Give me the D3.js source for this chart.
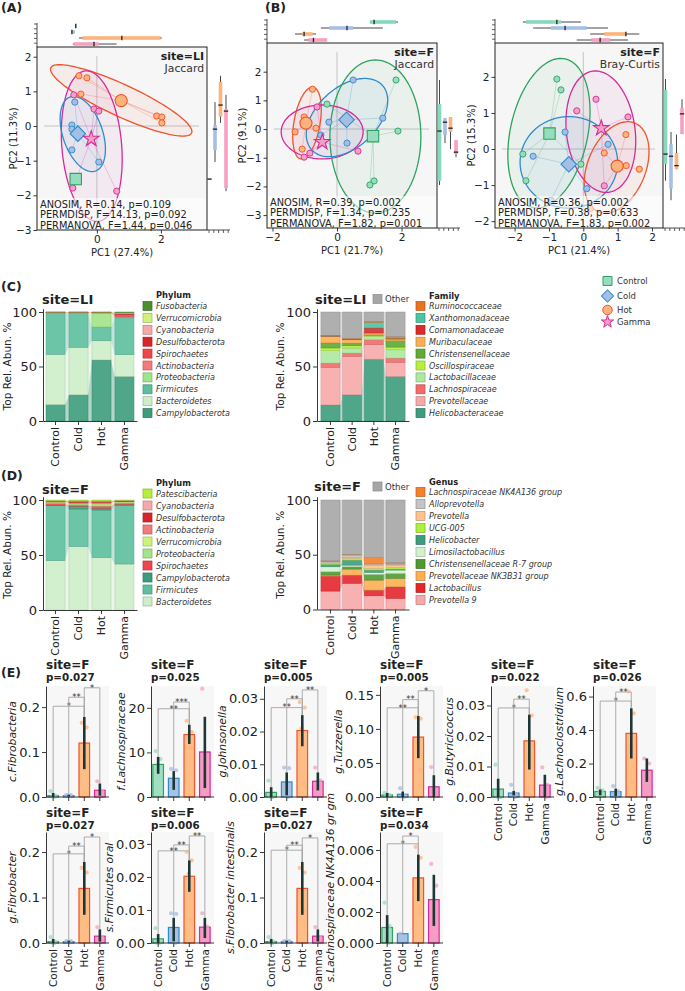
<!DOCTYPE html>
<html><head><meta charset="utf-8">
<script src="https://cdn.jsdelivr.net/npm/d3@7"></script>
<style>
body{margin:0;background:#fff}
svg{display:block;background:#fff}
text{font-family:"DejaVu Sans",sans-serif}
</style>
</head><body>
<svg id="c" width="685" height="991"></svg>
<script>
// ---------------- DATA ----------------
const groups = ["Control","Cold","Hot","Gamma"];

// (A) PCoA site=LI, Jaccard : [group, PC1, PC2]
const pcoaLIJac = [
 ["Hot",-0.56,1.45],["Hot",-0.31,1.39],["Hot",-0.50,0.92],["Hot",1.87,0.29],["Hot",2.03,0.26],["Hot",2.03,0.09],
 ["Gamma",-0.72,0.90],["Gamma",-0.09,0.49],["Gamma",0.06,0.43],["Gamma",-0.75,-1.79],["Gamma",0.62,-1.88],
 ["Cold",-0.69,0.69],["Cold",-0.78,0.03],["Cold",-0.78,-0.09],["Cold",-0.78,-0.69],["Cold",0.06,-1.04],
 ["Control",-0.66,-1.53]
];
// ellipses: [group, cx, cy, major dx, major dy, minor dx, minor dy] (data units)
const ellLIJac = [
 ["Hot",0.76,0.74,2.2,-0.94,-0.2,-0.42],
 ["Gamma",-0.16,-0.58,-0.2,2.17,0.93,0.08],
 ["Cold",-0.44,-0.23,-0.39,1.07,0.59,0.18]
];
const statsLIJac = ["ANOSIM, R=0.14, p=0.109","PERMDISP, F=14.13, p=0.092","PERMANOVA, F=1.44, p=0.046"];

// (B) PCoA site=F, Jaccard
const pcoaFJac = [
 ["Hot",-0.76,1.39],["Hot",-1.02,0.42],["Hot",-0.65,0.03],["Hot",-1.30,-0.10],["Hot",-1.08,-0.70],
 ["Gamma",-0.62,0.77],["Gamma",-0.84,-0.84],["Gamma",-1.02,-0.98],["Gamma",0.65,-0.77],
 ["Cold",0.50,1.71],["Cold",1.42,0.38],["Cold",-0.25,0.24],["Cold",-0.50,-0.21],["Cold",0.31,-0.49],
 ["Control",-0.31,0.87],["Control",1.83,1.71],["Control",1.89,-0.07],["Control",1.15,-1.81],["Control",1.02,-1.95]
];
const ellFJac = [
 ["Hot",-0.93,0.21,0.19,1.25,0.40,-0.07],
 ["Gamma",-0.46,-0.10,1.27,0,0,0.94],
 ["Cold",0.31,0.40,1.10,1.12,0.62,-0.78],
 ["Control",1.19,-0.26,0,2.67,1.41,0]
];
const statsFJac = ["ANOSIM, R=0.39, p=0.002","PERMDISP, F=1.34, p=0.235","PERMANOVA, F=1.82, p=0.001"];

// (B) PCoA site=F, Bray-Curtis
const pcoaFBC = [
 ["Control",-0.77,1.94],["Control",-0.65,1.64],["Control",-1.76,-0.14],["Control",-1.67,-0.88],["Control",-0.07,-0.42],
 ["Cold",-0.53,0.47],["Cold",-1.46,-0.20],["Cold",0.72,0.13],["Cold",0.10,-1.10],["Cold",-0.94,-1.42],
 ["Gamma",0.37,1.38],["Gamma",-0.19,1.06],["Gamma",1.30,0.89],["Gamma",0.61,-1.02],
 ["Hot",1.24,0.40],["Hot",0.61,-0.11],["Hot",1.25,-0.46],["Hot",1.63,-0.56],["Hot",0.20,-1.65]
];
const ellFBC = [
 ["Control",-1.0,0.44,0.47,2.06,1.1,-0.23],
 ["Cold",-0.42,-0.37,1.42,0,0,1.27],
 ["Gamma",0.51,0.48,-0.23,1.68,0.99,0.125],
 ["Hot",0.97,-0.51,0.53,1.23,0.78,-0.31]
];
const statsFBC = ["ANOSIM, R=0.36, p=0.002","PERMDISP, F=0.38, p=0.633","PERMANOVA, F=1.83, p=0.002"];

// (C) stacked relative abundance, bottom-up: [taxon, Control, Cold, Hot, Gamma]
const phylumLI = [
 ["Campylobacterota",15,24,56,40.8],
 ["Bacteroidetes",46,43.5,17.6,20],
 ["Firmicutes",38,31.5,12.6,33.8],
 ["Proteobacteria",0.2,0.2,12.8,0.5],
 ["Actinobacteria",0.3,0.3,0.3,1.0],
 ["Spirochaetes",0.1,0.1,0.2,1.5],
 ["Desulfobacterota",0.2,0.2,0.2,1.0],
 ["Cyanobacteria",0.1,0.1,0.1,0.5],
 ["Verrucomicrobia",0.05,0.05,0.1,0.3],
 ["Fusobacteria",0.05,0.05,0.1,0.6]
];
const familyLI = [
 ["Helicobacteraceae",14.7,24,56.7,40.8],
 ["Prevotellaceae",34.4,35.2,13.3,12.9],
 ["Lachnospiraceae",4,3.1,4.5,4],
 ["Lactobacillaceae",11.4,4.6,3.1,7.6],
 ["Oscillospiraceae",2.5,2.1,0.9,2.5],
 ["Christensenellaceae",4.6,2.5,0.6,5.8],
 ["Muribaculaceae",6.1,3,1.6,1.6],
 ["Comamonadaceae",0.2,0.2,4.6,0.2],
 ["Xanthomonadaceae",0.2,0.2,5.2,0.3],
 ["Ruminococcaceae",0.5,1,0.9,1.8],
 ["Other",21.4,24.1,8.6,22.5]
];
// (D)
const phylumF = [
 ["Bacteroidetes",44.8,57.6,47.6,41.8],
 ["Firmicutes",50,34.2,43.3,53],
 ["Campylobacterota",0.5,2.5,1.5,1],
 ["Spirochaetes",1.5,1,2,1.2],
 ["Proteobacteria",0.8,1,1.5,0.8],
 ["Verrucomicrobia",0.5,0.5,0.8,0.6],
 ["Actinobacteria",0.4,0.8,1,0.5],
 ["Desulfobacterota",0.5,1.2,1,0.4],
 ["Cyanobacteria",0.3,0.5,0.5,0.3],
 ["Patescibacteria",0.7,0.7,0.8,0.4]
];
const genusF = [
 ["Prevotella 9",16.8,23.8,12.5,10],
 ["Lactobacillus",13.7,7.6,5.2,10.7],
 ["Prevotellaceae NK3B31 group",0.9,5.5,9.1,7.7],
 ["Christensenellaceae R-7 group",3.1,2.1,5.2,4.5],
 ["Limosilactobacillus",4.5,1.5,1.8,3.1],
 ["Helicobacter",2.2,4.6,2.2,0.9],
 ["UCG-005",0.8,1.5,1.5,1.5],
 ["Prevotella",1,1,3,2.1],
 ["Alloprevotella",0.6,2.1,1,1],
 ["Lachnospiraceae NK4A136 group",0.9,0.6,5.8,1.2],
 ["Other",55.5,49.7,52.7,57.3]
];

// (E) differential taxa, site=F
const eNames = ["c.Fibrobacteria","f.Lachnospiraceae","g.Johnsonella","g.Tuzzerella","g.Butyricicoccus","g.Lachnoclostridium",
 "g.Fibrobacter","s.Firmicutes oral","s.Fibrobacter intestinalis","s.Lachnospiraceae NK4A136 gr gm"];
const eP = ["0.027","0.025","0.005","0.005","0.022","0.026","0.027","0.006","0.027","0.034"];
const eMeans = [
 [0.003,0.003,0.12,0.015],[7.3,4.2,14.0,10.1],[0.0014,0.0046,0.0203,0.0048],[0.003,0.004,0.088,0.015],
 [0.0026,0.0013,0.0184,0.0039],[0.033,0.032,0.38,0.16],[0.003,0.003,0.12,0.015],[0.00125,0.0047,0.0202,0.0048],
 [0.003,0.003,0.12,0.015],[0.001,0.0006,0.0042,0.0028]];
const eLo = [
 [0,0.001,0.062,0.003],[5.2,1.6,11.9,2.0],[0,0.0005,0.0155,0.002],[0,0,0.057,0],
 [0,0.0005,0.009,0],[0.01,0.005,0.23,0.09],[0,0.001,0.062,0.003],[0,0.0005,0.0155,0.0015],
 [0,0.001,0.062,0.003],[0,0.0006,0.0027,0.0011]];
const eHi = [
 [0.009,0.005,0.178,0.03],[9.0,5.8,16.2,18.0],[0.003,0.0075,0.025,0.0075],[0.006,0.008,0.119,0.032],
 [0.006,0.002,0.027,0.0073],[0.045,0.05,0.53,0.23],[0.009,0.005,0.178,0.03],[0.0027,0.0076,0.025,0.0076],
 [0.009,0.005,0.178,0.03],[0.0018,0.0006,0.0057,0.0044]];
const ePts = [
 [[0.013,0.003,0.001,0.0],[0.004,0.004,0.003,0.002],[0.165,0.155,0.09,0.07],[0.035,0.012,0.004]],
 [[10.3,8.5,6.0,4.5],[6.3,6.0,2.5,2.0],[17.1,14.6,13.3,11.0],[24.3,8.0,5.0,3.0]],
 [[0.005,0.0005,0.0,0.0],[0.009,0.0088,0.0005,0.0],[0.029,0.0273,0.021,0.004],[0.009,0.005,0.003,0.002]],
 [[0.006,0.003,0.002,0.001],[0.013,0.002,0.001,0.0],[0.117,0.115,0.08,0.04],[0.044,0.01,0.004,0.002]],
 [[0.0106,0,0,0],[0.004,0.001,0.0003,0],[0.035,0.0267,0.012,0.0003],[0.0097,0.004,0.002,0]],
 [[0.055,0.04,0.025,0.012],[0.065,0.035,0.02,0.008],[0.63,0.5,0.3,0.09],[0.23,0.2,0.12,0.09]],
 [[0.013,0.003,0.001,0.0],[0.004,0.004,0.003,0.002],[0.165,0.155,0.09,0.07],[0.035,0.012,0.004]],
 [[0.0045,0.0005,0,0],[0.009,0.0088,0.001,0.0],[0.0276,0.025,0.021,0.0072],[0.009,0.005,0.003,0.002]],
 [[0.013,0.003,0.001,0.0],[0.004,0.004,0.003,0.002],[0.165,0.155,0.09,0.07],[0.035,0.012,0.004]],
 [[0.0026,0.0011,0.0003,0],[0.0006],[0.0062,0.0055,0.0032,0.0019],[0.0051,0.0037,0.0017,0.0007]]];
const eBrackets = [
 [["Control","Hot",0.202,"*"],["Cold","Hot",0.222,"**"],["Hot","Gamma",0.243,"*"]],
 [["Control","Hot",19.8,"**"],["Cold","Hot",21.3,"***"]],
 [["Control","Hot",0.0273,"**"],["Cold","Hot",0.030,"**"],["Hot","Gamma",0.0327,"**"]],
 [["Control","Hot",0.131,"**"],["Cold","Hot",0.143,"**"],["Hot","Gamma",0.156,"*"]],
 [["Control","Hot",0.0292,"*"],["Cold","Hot",0.0321,"**"]],
 [["Control","Hot",0.573,"*"],["Cold","Hot",0.627,"**"]],
 [["Control","Hot",0.196,"*"],["Cold","Hot",0.213,"**"],["Hot","Gamma",0.233,"*"]],
 [["Control","Hot",0.0279,"**"],["Cold","Hot",0.0297,"**"],["Hot","Gamma",0.0324,"**"]],
 [["Control","Hot",0.204,"*"],["Cold","Hot",0.215,"**"],["Hot","Gamma",0.231,"*"]],
 [["Control","Hot",0.0064,"*"],["Cold","Hot",0.0069,"*"]]];
const eYMax = [0.247,24.9,0.0339,0.163,0.0364,0.663,0.244,0.0336,0.244,0.00716];
const eTicks = [[0,0.1,0.2],[0,10,20],[0,0.01,0.02,0.03],[0,0.05,0.10,0.15],[0,0.01,0.02,0.03],[0,0.2,0.4,0.6],
 [0,0.1,0.2],[0,0.01,0.02,0.03],[0,0.1,0.2],[0,0.002,0.004,0.006]];
const eFmt = [".1f","d",".2f",".2f",".2f",".1f",".1f",".2f",".1f",".3f"];

// ---------------- STYLES ----------------
const stroke = {Control:"#2ea35f", Cold:"#2f8bcc", Hot:"#f0522b", Gamma:"#d42a9c"};
const fillC  = {Control:"#96dcbf", Cold:"#a3bfe3", Hot:"#fdb47c", Gamma:"#f4a0c6"};
const boxFill= {Control:"#86d9bd", Cold:"#a6bfe6", Hot:"#fdb47a", Gamma:"#f6a0c2"};
const barFill= {Control:"#a1dfc3", Cold:"#a7c2e5", Hot:"#fdbd85", Gamma:"#f59cc3"};
const taxColor = {
 "Campylobacterota":"#3d9c7c","Bacteroidetes":"#cdeec9","Firmicutes":"#5dbf9f","Proteobacteria":"#a3e389",
 "Actinobacteria":"#f37a7a","Spirochaetes":"#f0454a","Desulfobacterota":"#d7262b","Cyanobacteria":"#f6a9a9",
 "Verrucomicrobia":"#cff27a","Fusobacteria":"#4d8f2f","Patescibacteria":"#b5ee3c",
 "Helicobacteraceae":"#3d9c7c","Prevotellaceae":"#f7a8a8","Lachnospiraceae":"#f26a6a","Lactobacillaceae":"#ade8a0",
 "Oscillospiraceae":"#b6f03c","Christensenellaceae":"#5daa35","Muribaculaceae":"#fdae50","Comamonadaceae":"#dc2a2a",
 "Xanthomonadaceae":"#4dc4a2","Ruminococcaceae":"#e8741f","Other":"#a6a6a6",
 "Prevotella 9":"#f7a8a8","Lactobacillus":"#e3262b","Prevotellaceae NK3B31 group":"#fdae50",
 "Christensenellaceae R-7 group":"#4f9a30","Limosilactobacillus":"#d2f2cd","Helicobacter":"#3d9c7c",
 "UCG-005":"#aaf03c","Prevotella":"#fdc28e","Alloprevotella":"#c4c4c4","Lachnospiraceae NK4A136 group":"#f5802a"
};
const symType = {Control:d3.symbolSquare, Cold:d3.symbolSquare, Hot:d3.symbolCircle, Gamma:d3.symbolStar};
const symRot  = {Control:0, Cold:45, Hot:0, Gamma:0};
const symSize = {Control:130, Cold:120, Hot:115, Gamma:75};

const svg = d3.select("#c");

function txt(parent, x, y, s, o={}) {
  const t = parent.append("text").attr("x",x).attr("y",y).text(s)
    .attr("font-size", o.size||10).attr("fill", o.fill||"#222");
  if(o.weight) t.attr("font-weight",o.weight);
  if(o.anchor) t.attr("text-anchor",o.anchor);
  if(o.style) t.attr("font-style",o.style);
  if(o.rotate!==undefined) t.attr("transform",`rotate(${o.rotate},${x},${y})`);
  return t;
}
function styleAxis(sel, size){
  sel.selectAll("path,line").attr("stroke","#222").attr("stroke-width",0.9);
  sel.selectAll("text").attr("font-size",size).attr("fill","#222").attr("font-family","DejaVu Sans, sans-serif");
}
function boxStats(vals){
  const s = vals.slice().sort(d3.ascending);
  const q1 = d3.quantileSorted(s,0.25), med = d3.quantileSorted(s,0.5), q3 = d3.quantileSorted(s,0.75);
  const iqr = q3-q1;
  return {q1, med, q3, lo:d3.min(s.filter(v=>v>=q1-1.5*iqr)), hi:d3.max(s.filter(v=>v<=q3+1.5*iqr))};
}

// ---------------- PCoA ----------------
function pcoa(cfg){
  const box = cfg.box;
  const x = d3.scaleLinear().domain(cfg.xDom).range([box.x0,box.x1]);
  const y = d3.scaleLinear().domain(cfg.yDom).range([box.y1,box.y0]);
  const g = svg.append("g");
  const clipId = "clip"+cfg.id;
  svg.append("clipPath").attr("id",clipId).append("rect")
    .attr("x",box.x0).attr("y",box.y0).attr("width",box.x1-box.x0).attr("height",box.y1-box.y0);
  g.append("rect").attr("x",box.x0).attr("y",box.y0).attr("width",box.x1-box.x0).attr("height",box.y1-box.y0).attr("fill","#f6f6f6");
  const inner = g.append("g").attr("clip-path",`url(#${clipId})`);
  inner.append("line").attr("x1",x(0)).attr("x2",x(0)).attr("y1",box.y0+9).attr("y2",box.y1).attr("stroke","#c4c4c4").attr("stroke-width",1);
  inner.append("line").attr("x1",box.x0+7).attr("x2",box.x1-8).attr("y1",y(0)).attr("y2",y(0)).attr("stroke","#c4c4c4").attr("stroke-width",1);
  const ellPath = e => d3.line()(d3.range(0,361,3).map(a=>{const t=a*Math.PI/180;
     return [x(e[1]+Math.cos(t)*e[3]+Math.sin(t)*e[5]), y(e[2]+Math.cos(t)*e[4]+Math.sin(t)*e[6])];}))+"Z";
  cfg.ells.forEach(e=> inner.append("path").attr("d",ellPath(e)).attr("fill",stroke[e[0]]).attr("fill-opacity",0.06));
  const cent = groups.map(gr=>{const p=cfg.pts.filter(d=>d[0]===gr);
     return p.length?{g:gr,x:d3.mean(p,d=>d[1]),y:d3.mean(p,d=>d[2])}:null;}).filter(Boolean);
  cfg.pts.forEach(p=>{const c=cent.find(c=>c.g===p[0]);
     inner.append("line").attr("x1",x(p[1])).attr("y1",y(p[2])).attr("x2",x(c.x)).attr("y2",y(c.y))
       .attr("stroke",stroke[p[0]]).attr("stroke-opacity",0.3).attr("stroke-width",0.8);});
  cfg.ells.forEach(e=> inner.append("path").attr("d",ellPath(e)).attr("fill","none").attr("stroke",stroke[e[0]]).attr("stroke-width",1.3));
  cfg.pts.forEach(p=> inner.append("circle").attr("cx",x(p[1])).attr("cy",y(p[2])).attr("r",3.1)
       .attr("fill",fillC[p[0]]).attr("stroke",stroke[p[0]]).attr("stroke-width",0.9));
  cent.forEach(c=> inner.append("path").attr("d",d3.symbol(symType[c.g],symSize[c.g])())
       .attr("transform",`translate(${x(c.x)},${y(c.y)}) rotate(${symRot[c.g]})`)
       .attr("fill",fillC[c.g]).attr("stroke",stroke[c.g]).attr("stroke-width",1.1));
  // stats
  const sg = g.append("g");
  sg.append("rect").attr("x",box.x0+1).attr("y",box.y1-32).attr("width",box.x1-box.x0-2).attr("height",31).attr("fill","#fff").attr("opacity",0.55);
  cfg.stats.forEach((s,i)=> txt(sg, box.x0+3, box.y1-22.5+i*10.5, s, {size:9.8, fill:"#222"}));
  txt(g, box.x1-3, box.y0+13, cfg.site, {size:11, weight:"bold", anchor:"end"});
  txt(g, box.x1-3, box.y0+25, cfg.metric, {size:10.8, anchor:"end", fill:"#333"});
  g.append("rect").attr("x",box.x0).attr("y",box.y0).attr("width",box.x1-box.x0).attr("height",box.y1-box.y0)
    .attr("fill","none").attr("stroke","#222").attr("stroke-width",1);
  const ax = g.append("g").attr("transform",`translate(0,${box.y1})`)
    .call(d3.axisBottom(x).tickValues(cfg.xTicks).tickFormat(d3.format("d")).tickSize(3.5).tickPadding(2));
  ax.select(".domain").remove(); styleAxis(ax,10.5);
  const ay = g.append("g").attr("transform",`translate(${box.x0},0)`)
    .call(d3.axisLeft(y).tickValues(cfg.yTicks).tickFormat(d3.format("d")).tickSize(3.5).tickPadding(2));
  ay.select(".domain").remove(); styleAxis(ay,10.5);
  txt(g,(box.x0+box.x1)/2, box.y1+26, cfg.xlab, {size:10, anchor:"middle"});
  txt(g,cfg.ylabX,(box.y0+box.y1)/2, cfg.ylab, {size:10, anchor:"middle", rotate:-90});
  // marginal boxplots (top: PC1, right: PC2)
  const mg = g.append("g");
  mg.append("line").attr("x1",box.x0).attr("x2",box.x0).attr("y1",box.y0-24).attr("y2",box.y0).attr("stroke","#222").attr("stroke-width",0.8);
  d3.range(5).forEach(i=> mg.append("line").attr("x1",box.x0-3).attr("x2",box.x0).attr("y1",box.y0-23+i*4.8).attr("y2",box.y0-23+i*4.8).attr("stroke","#222").attr("stroke-width",0.7));
  mg.append("line").attr("y1",box.y1).attr("y2",box.y1).attr("x1",box.x1).attr("x2",box.x1+23).attr("stroke","#222").attr("stroke-width",0.8);
  d3.range(5).forEach(i=> mg.append("line").attr("y1",box.y1).attr("y2",box.y1+3).attr("x1",box.x1+2+i*4.8).attr("x2",box.x1+2+i*4.8).attr("stroke","#222").attr("stroke-width",0.7));
  groups.forEach((gr,i)=>{
    const p = cfg.pts.filter(d=>d[0]===gr); if(!p.length) return;
    const sx = boxStats(p.map(d=>d[1])), sy = boxStats(p.map(d=>d[2]));
    const yy = box.y0-21+i*6;
    mg.append("line").attr("x1",x(sx.lo)).attr("x2",x(sx.hi)).attr("y1",yy).attr("y2",yy).attr("stroke","#333").attr("stroke-width",0.9);
    mg.append("rect").attr("x",x(sx.q1)).attr("y",yy-1.8).attr("width",Math.max(x(sx.q3)-x(sx.q1),0.8)).attr("height",3.6).attr("fill",boxFill[gr]);
    mg.append("line").attr("x1",x(sx.med)).attr("x2",x(sx.med)).attr("y1",yy-2.2).attr("y2",yy+2.2).attr("stroke","#222").attr("stroke-width",1.3);
    const xx = box.x1+2.5+i*5.5;
    mg.append("line").attr("y1",y(sy.lo)).attr("y2",y(sy.hi)).attr("x1",xx).attr("x2",xx).attr("stroke","#333").attr("stroke-width",0.9);
    mg.append("rect").attr("y",y(sy.q3)).attr("x",xx-1.8).attr("height",Math.max(y(sy.q1)-y(sy.q3),0.8)).attr("width",3.6).attr("fill",boxFill[gr]);
    mg.append("line").attr("y1",y(sy.med)).attr("y2",y(sy.med)).attr("x1",xx-2.2).attr("x2",xx+2.2).attr("stroke","#222").attr("stroke-width",1.3);
  });
}

pcoa({id:"A", box:{x0:37,x1:207,y0:47,y1:230}, xDom:[-1.87,3.44], yDom:[-3,2.28], xTicks:[0,2], yTicks:[-3,-2,-1,0,1,2],
  pts:pcoaLIJac, ells:ellLIJac, stats:statsLIJac, site:"site=LI", metric:"Jaccard", xlab:"PC1 (27.4%)", ylab:"PC2 (11.3%)", ylabX:17});
pcoa({id:"B1", box:{x0:267,x1:437,y0:43,y1:228}, xDom:[-2.17,3.1], yDom:[-3.45,3.0], xTicks:[-2,0,2], yTicks:[-3,-2,-1,0,1,2],
  pts:pcoaFJac, ells:ellFJac, stats:statsFJac, site:"site=F", metric:"Jaccard", xlab:"PC1 (21.7%)", ylab:"PC2 (9.1%)", ylabX:246});
pcoa({id:"B2", box:{x0:495,x1:663,y0:43,y1:228}, xDom:[-2.57,2.32], yDom:[-2.19,2.94], xTicks:[-2,-1,0,1,2], yTicks:[-2,-1,0,1,2],
  pts:pcoaFBC, ells:ellFBC, stats:statsFBC, site:"site=F", metric:"Bray-Curtis", xlab:"PC1 (21.4%)", ylab:"PC2 (15.3%)", ylabX:475});

// panel letters
[["(A)",1,12],["(B)",265,12],["(C)",1,291],["(D)",1,480],["(E)",1,677]].forEach(d=>txt(svg,d[1],d[2],d[0],{size:12.5,weight:"bold"}));

// group legend
const lg = svg.append("g");
groups.forEach((gr,i)=>{
  const cy = [281,296,310,322][i];
  lg.append("path").attr("d",d3.symbol(symType[gr],symSize[gr]*0.62)()).attr("transform",`translate(607.5,${cy}) rotate(${symRot[gr]})`)
    .attr("fill",fillC[gr]).attr("stroke",stroke[gr]).attr("stroke-width",1);
  txt(lg,617,cy+3,gr,{size:8.5,fill:"#333"});
});

// ---------------- STACKED ----------------
function stackPanel(o){
  const g = svg.append("g");
  const x = d3.scaleBand().domain(groups).range(o.xr).paddingInner(o.pi).paddingOuter(o.po);
  const y = d3.scaleLinear().domain([0,103]).range([o.y0, o.y0-1.03*(o.y0-o.y100)]);
  const keys = o.data.map(d=>d[0]);
  const table = groups.map((gr,i)=>{const r={}; o.data.forEach(d=>r[d[0]]=d[i+1]); return r;});
  const series = d3.stack().keys(keys)(table);
  const bw = x.bandwidth();
  series.forEach(s=>{
    for(let i=0;i<3;i++){
      const a=s[i], b=s[i+1], xa=x(groups[i])+bw, xb=x(groups[i+1]);
      g.append("path").attr("d",`M${xa},${y(a[0])}L${xa},${y(a[1])}L${xb},${y(b[1])}L${xb},${y(b[0])}Z`)
        .attr("fill",taxColor[s.key]).attr("opacity",0.4);
    }
  });
  series.forEach(s=> s.forEach((d,i)=>{
    g.append("rect").attr("x",x(groups[i])).attr("y",y(d[1])).attr("width",bw).attr("height",Math.max(0,y(d[0])-y(d[1])))
      .attr("fill",taxColor[s.key]).attr("fill-opacity",0.9)
      .attr("stroke",d3.color(taxColor[s.key]).darker(0.6)).attr("stroke-width",0.5).attr("stroke-opacity",0.8);
  }));
  const ay = g.append("g").attr("transform",`translate(${o.xr[0]},0)`).call(d3.axisLeft(y).tickValues([0,50,100]).tickSize(4).tickSizeOuter(0).tickPadding(2));
  styleAxis(ay,13);
  const ax = g.append("g").attr("transform",`translate(0,${o.y0})`).call(d3.axisBottom(x).tickSize(4).tickSizeOuter(0));
  styleAxis(ax,11);
  ax.selectAll("text").attr("x",-6).attr("y",0).attr("dy","0.35em").attr("transform","rotate(-90)").attr("text-anchor","end");
  txt(g,o.titleX,o.titleY,o.title,{size:13,weight:"bold"});
  txt(g,o.ylabX,(o.y0+o.y100)/2,"Top Rel. Abun. %",{size:10.5,anchor:"middle",rotate:-90});
  if(keys.includes("Other")){
    g.append("rect").attr("x",o.otherX).attr("y",o.otherY-4.5).attr("width",9).attr("height",9).attr("fill",taxColor.Other).attr("stroke","#8a8a8a").attr("stroke-width",0.7);
    txt(g,o.otherX+12,o.otherY+3,"Other",{size:8.5,fill:"#333"});
  }
  txt(g,o.legX+13,o.legTitleY,o.legTitle,{size:8.3,weight:"bold"});
  keys.filter(k=>k!=="Other").reverse().forEach((k,i)=>{
    const cy = o.legY0+i*o.legStep;
    g.append("rect").attr("x",o.legX).attr("y",cy-4.5).attr("width",9).attr("height",9).attr("fill",taxColor[k])
      .attr("stroke",d3.color(taxColor[k]).darker(0.8)).attr("stroke-width",0.7);
    txt(g,o.legX+13,cy+3,k,{size:8,style:"italic",fill:"#333"});
  });
}
stackPanel({data:phylumLI, xr:[43,137], pi:0.17, po:0.13, y0:421, y100:312, title:"site=LI", titleX:42, titleY:304,
  ylabX:10.5, legX:143, legTitle:"Phylum", legTitleY:298, legY0:306, legStep:11.9});
stackPanel({data:familyLI, xr:[317,409], pi:0.12, po:0.18, y0:421, y100:312, title:"site=LI", titleX:315, titleY:304,
  ylabX:284, otherX:373, otherY:299, legX:416, legTitle:"Family", legTitleY:299, legY0:306, legStep:11.9});
stackPanel({data:phylumF, xr:[43,137], pi:0.17, po:0.13, y0:610, y100:500, title:"site=F", titleX:42, titleY:494,
  ylabX:10.5, legX:143, legTitle:"Phylum", legTitleY:486, legY0:493.5, legStep:12});
stackPanel({data:genusF, xr:[317,409], pi:0.12, po:0.18, y0:609.5, y100:500, title:"site=F", titleX:314, titleY:491,
  ylabX:284, otherX:373, otherY:486.5, legX:416, legTitle:"Genus", legTitleY:485, legY0:492, legStep:12});

// ---------------- (E) bars ----------------
function ePlot(k, X0, yBot, yTop, titleY, showX){
  const g = svg.append("g");
  const x = d3.scaleBand().domain(groups).range([X0, X0+61]).paddingInner(0.32).paddingOuter(0.12);
  const y = d3.scaleLinear().domain([0,eYMax[k]]).range([yBot,yTop]);
  const cx = gr => x(gr)+x.bandwidth()/2;
  g.append("rect").attr("x",X0).attr("y",yTop).attr("width",63).attr("height",yBot-yTop).attr("fill","#f7f7f7");
  eBrackets[k].forEach(b=>{
    const [ga,gb,lev,lab]=b, ia=groups.indexOf(ga), ib=groups.indexOf(gb), ly=y(lev);
    g.append("path").attr("d",`M${cx(ga)},${y(eHi[k][ia])}V${ly}H${cx(gb)}V${y(eHi[k][ib])}`)
      .attr("fill","none").attr("stroke","#a3a3a3").attr("stroke-width",0.9);
    txt(g,(cx(ga)+cx(gb))/2, ly+2.8, lab, {size:8.3, anchor:"middle", fill:"#333"});
  });
  groups.forEach((gr,i)=>{
    g.append("rect").attr("x",x(gr)).attr("y",y(eMeans[k][i])).attr("width",x.bandwidth()).attr("height",yBot-y(eMeans[k][i]))
      .attr("fill",barFill[gr]).attr("stroke",stroke[gr]).attr("stroke-width",1.2);
  });
  const jit = [-2.6,2.4,-0.8,1.4];
  groups.forEach((gr,i)=> ePts[k][i].forEach((v,j)=>{
    g.append("circle").attr("cx",cx(gr)+jit[j%4]).attr("cy",y(v)).attr("r",2.1).attr("fill",fillC[gr]).attr("fill-opacity",0.75);
  }));
  groups.forEach((gr,i)=>{
    if(eHi[k][i]>eLo[k][i]) g.append("line").attr("x1",cx(gr)).attr("x2",cx(gr)).attr("y1",y(eLo[k][i])).attr("y2",y(eHi[k][i]))
      .attr("stroke","#1f3636").attr("stroke-width",2.6);
  });
  const ay = g.append("g").attr("transform",`translate(${X0},0)`)
    .call(d3.axisLeft(y).tickValues(eTicks[k]).tickFormat(d3.format(eFmt[k])).tickSize(4).tickSizeOuter(0).tickPadding(2));
  styleAxis(ay,13);
  const ax = g.append("g").attr("transform",`translate(0,${yBot})`).call(d3.axisBottom(x).tickSize(4).tickSizeOuter(0));
  ax.select(".domain").remove();
  styleAxis(ax,10.5);
  g.append("line").attr("x1",X0).attr("x2",X0+63).attr("y1",yBot).attr("y2",yBot).attr("stroke","#222").attr("stroke-width",0.9);
  if(showX) ax.selectAll("text").attr("x",-6).attr("y",0).attr("dy","0.35em").attr("transform","rotate(-90)").attr("text-anchor","end");
  else ax.selectAll("text").remove();
  const maxW = d3.max(ay.selectAll("text").nodes(), n=>n.getComputedTextLength());
  txt(g, X0-6-maxW-3, (yTop+yBot)/2, eNames[k], {size:10.8, style:"italic", anchor:"middle", rotate:-90});
  txt(g, X0, titleY, "site=F", {size:12, weight:"bold"});
  txt(g, X0, titleY+12.5, "p="+eP[k], {size:10.3, weight:"bold"});
}
const eCols = [46,151,264,380,491,593];
for(let k=0;k<6;k++) ePlot(k, eCols[k], 797, 686, 668.5, k>=4);
for(let k=6;k<10;k++) ePlot(k, eCols[k-6], 943, 832, 816.5, true);
</script>
</body></html>
